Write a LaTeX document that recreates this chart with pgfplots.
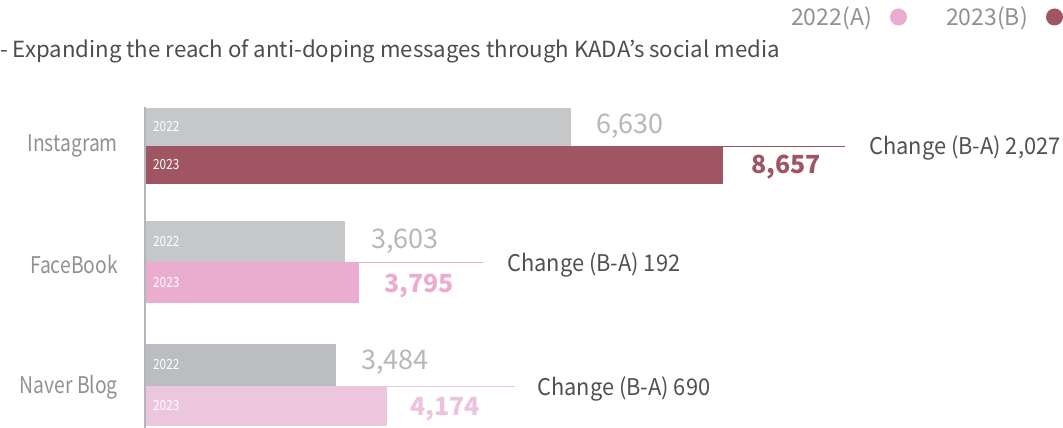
\documentclass[border=0pt]{standalone}
\usepackage{fontspec}
\setmainfont{Noto Sans CJK KR}
\newfontfamily\catfont{Noto Sans CJK KR}[FakeStretch=0.84]
\newfontfamily\chgfont{Noto Sans CJK KR}[FakeStretch=0.95]
\usepackage{pgfplots}
\pgfplotsset{compat=1.18}
\definecolor{grayA}{HTML}{C6C7C9}
\definecolor{grayC}{HTML}{BCBDC0}
\definecolor{darkB}{HTML}{A05563}
\definecolor{pinkB}{HTML}{EBADCF}
\definecolor{lpinkB}{HTML}{ECC5DF}
\definecolor{valgray}{HTML}{B7B7BA}
\definecolor{cattxt}{HTML}{919191}
\definecolor{titletxt}{HTML}{4D4D4D}
\definecolor{chgtxt}{HTML}{505050}
\definecolor{axline}{HTML}{B4B5B8}
\begin{document}
\begin{tikzpicture}
\begin{axis}[
  at={(145pt,0pt)}, anchor=south west,
  width=918pt, height=428pt, scale only axis,
  xmin=940, xmax=13188, ymin=0, ymax=428,
  y dir=reverse, hide axis, clip mode=individual]
% 2022 (A)
\addplot[xbar, bar shift=0pt, bar width=38, fill=grayA, draw=none] coordinates {(6630,127)};
\addplot[xbar, bar shift=0pt, bar width=41, fill=grayA, draw=none] coordinates {(3603,241.5)};
\addplot[xbar, bar shift=0pt, bar width=42, fill=grayC, draw=none] coordinates {(3484,365)};
% 2023 (B)
\addplot[xbar, bar shift=0pt, bar width=38, fill=darkB, draw=none] coordinates {(8657,165)};
\addplot[xbar, bar shift=0pt, bar width=41, fill=pinkB, draw=none] coordinates {(3795,282.5)};
\addplot[xbar, bar shift=0pt, bar width=40, fill=lpinkB, draw=none] coordinates {(4174,406)};
% connector lines
\draw[darkB, line width=1pt] (axis cs:8657,146) -- (axis cs:10280,146);
\draw[pinkB, line width=1pt] (axis cs:3795,262) -- (axis cs:5450,262);
\draw[lpinkB, line width=1pt] (axis cs:4174,386) -- (axis cs:5877,386);
% axis line
\draw[axline, line width=2pt] (axis cs:940,107) -- (axis cs:940,428);
\end{axis}
\begin{scope}[x=1pt, y=-1pt, shift={(0pt,428pt)}]
% legend
\node[anchor=east, text=cattxt, inner sep=0pt, font=\fontsize{23}{23}\selectfont] at (872,18) {2022(A)};
\fill[pinkB] (898.5,17) circle (8.5);
\node[anchor=east, text=cattxt, inner sep=0pt, font=\fontsize{23}{23}\selectfont] at (1028,18) {2023(B)};
\fill[darkB] (1054.5,17) circle (8.5);
% title
\node[anchor=west, text=titletxt, inner sep=0pt, font=\fontsize{22.2}{22.2}\selectfont] at (0,51) {- Expanding the reach of anti-doping messages through KADA’s social media};
% category labels
\node[anchor=east, text=cattxt, inner sep=0pt, font=\catfont\fontsize{23}{23}\selectfont] at (118,146) {Instagram};
\node[anchor=east, text=cattxt, inner sep=0pt, font=\catfont\fontsize{23}{23}\selectfont] at (118,264) {FaceBook};
\node[anchor=east, text=cattxt, inner sep=0pt, font=\catfont\fontsize{23}{23}\selectfont] at (118,387) {Naver Blog};
% inner labels
\foreach \yy/\lab in {127/2022,165/2023,241.5/2022,282.5/2023,365/2022,406/2023}
  \node[anchor=west, text=white, inner sep=0pt, font=\catfont\fontsize{14}{14}\selectfont] at (153,\yy) {\lab};
% values
\node[anchor=west, text=valgray, inner sep=0pt, font=\fontsize{27}{27}\selectfont] at (596,126) {6,630};
\node[anchor=west, text=darkB, inner sep=0pt, font=\bfseries\fontsize{25}{25}\selectfont] at (751,167) {8,657};
\node[anchor=west, text=valgray, inner sep=0pt, font=\fontsize{27}{27}\selectfont] at (371,241) {3,603};
\node[anchor=west, text=pinkB, inner sep=0pt, font=\bfseries\fontsize{25}{25}\selectfont] at (384,286) {3,795};
\node[anchor=west, text=valgray, inner sep=0pt, font=\fontsize{27}{27}\selectfont] at (361,362) {3,484};
\node[anchor=west, text=lpinkB!90!pinkB, inner sep=0pt, font=\bfseries\fontsize{25}{25}\selectfont] at (410,409) {4,174};
% change labels
\node[anchor=west, text=chgtxt, inner sep=0pt, font=\chgfont\fontsize{23}{23}\selectfont] at (869,148) {Change (B-A) 2,027};
\node[anchor=west, text=chgtxt, inner sep=0pt, font=\chgfont\fontsize{23}{23}\selectfont] at (507,265) {Change (B-A) 192};
\node[anchor=west, text=chgtxt, inner sep=0pt, font=\chgfont\fontsize{23}{23}\selectfont] at (537,389) {Change (B-A) 690};
\end{scope}
\pgfresetboundingbox
\path (0,0) rectangle (1063pt,428pt);
\end{tikzpicture}
\end{document}
